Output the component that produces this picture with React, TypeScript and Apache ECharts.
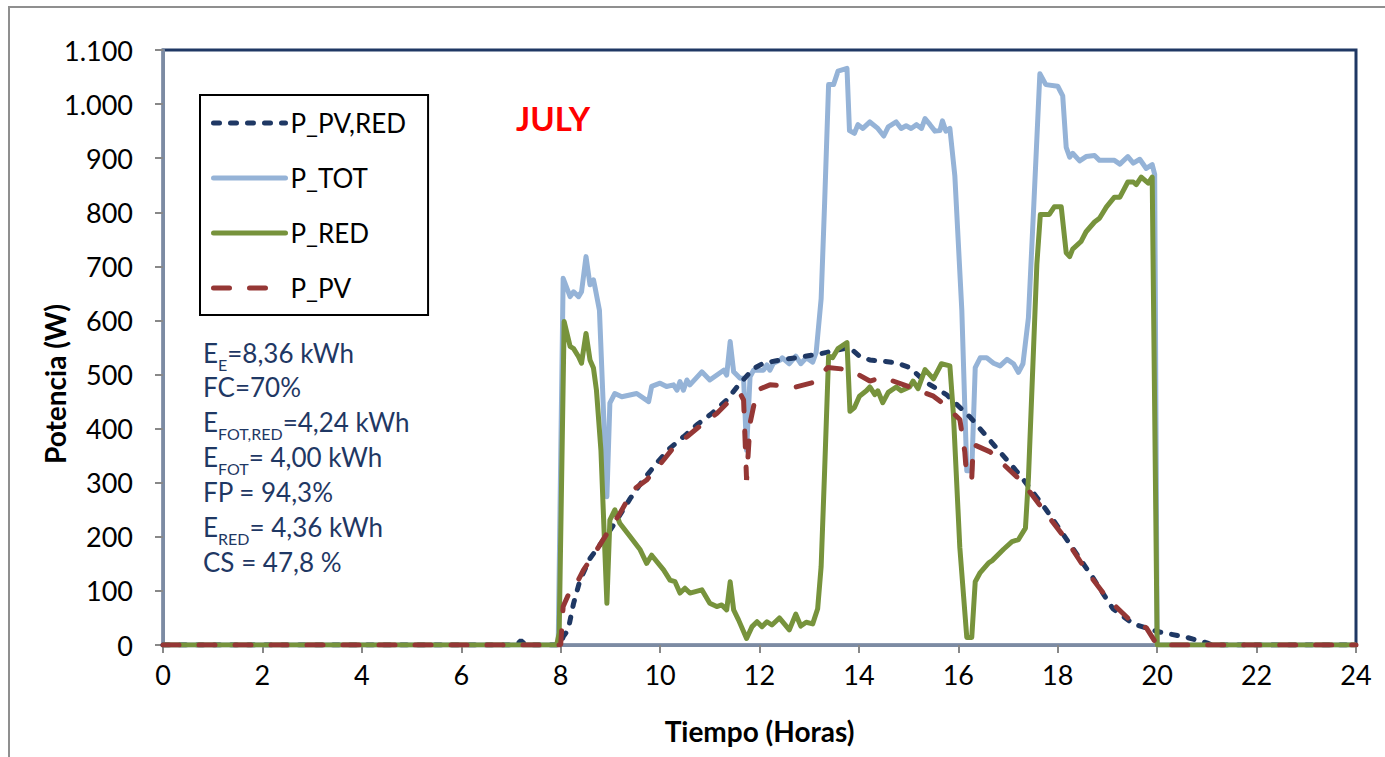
import React, { useEffect, useRef } from "react";
import * as echarts from "echarts";

// ---- Data (hours, watts) ----
const P_PVRED_H = [0, 7.1, 7.2, 7.3, 8.0, 8.05, 8.15, 8.26, 8.39, 8.59, 8.86, 9.13, 9.4, 9.66, 9.93, 10.2, 10.47, 10.74, 11.04, 11.34, 11.61, 11.88, 12.08, 12.42, 12.8, 13.2, 13.55, 13.81, 14.0, 14.22, 14.75, 15.02, 15.36, 15.76, 16.24, 16.77, 17.25, 17.76, 18.24, 18.71, 19.11, 19.52, 20.0, 20.6, 21.0, 21.1, 24];
const P_PVRED_W = [0, 0, 8, 0, 0, 15, 28, 77, 120, 160, 194, 231, 271, 305, 336, 364, 385, 407, 428, 453, 484, 511, 521, 527, 532, 538, 545, 550, 535, 527, 522, 513, 485, 463, 421, 364, 313, 251, 187, 124, 67, 39, 25, 14, 4, 0, 0];

const P_TOT_H = [0, 7.95, 8.05, 8.19, 8.26, 8.36, 8.42, 8.51, 8.59, 8.66, 8.69, 8.78, 8.93, 8.99, 9.09, 9.23, 9.53, 9.77, 9.83, 10.0, 10.13, 10.27, 10.34, 10.4, 10.47, 10.54, 10.6, 10.84, 11.0, 11.28, 11.34, 11.41, 11.48, 11.61, 11.68, 11.74, 11.81, 11.88, 12.08, 12.15, 12.21, 12.28, 12.42, 12.46, 12.6, 12.73, 12.83, 12.94, 13.07, 13.14, 13.24, 13.31, 13.39, 13.49, 13.58, 13.76, 13.81, 13.91, 13.98, 14.08, 14.22, 14.38, 14.5, 14.59, 14.75, 14.85, 14.95, 15.05, 15.16, 15.26, 15.33, 15.43, 15.53, 15.63, 15.68, 15.75, 15.83, 15.93, 16.07, 16.17, 16.27, 16.34, 16.44, 16.57, 16.71, 16.84, 16.98, 17.11, 17.21, 17.3, 17.41, 17.52, 17.64, 17.76, 18.0, 18.1, 18.17, 18.24, 18.3, 18.44, 18.57, 18.74, 18.84, 19.14, 19.25, 19.41, 19.52, 19.65, 19.78, 19.9, 19.95, 20.0, 24];
const P_TOT_W = [0, 0, 678, 644, 653, 644, 653, 718, 666, 675, 662, 619, 274, 447, 465, 459, 465, 450, 478, 484, 478, 481, 471, 487, 471, 490, 481, 505, 490, 508, 499, 561, 505, 493, 493, 360, 496, 508, 508, 518, 508, 521, 527, 531, 520, 534, 520, 531, 523, 541, 640, 817, 1036, 1036, 1061, 1066, 951, 946, 962, 955, 967, 955, 941, 958, 967, 955, 960, 955, 962, 955, 973, 962, 950, 951, 969, 950, 955, 867, 619, 322, 322, 513, 531, 531, 521, 516, 528, 520, 504, 520, 605, 817, 1056, 1036, 1033, 1015, 920, 902, 909, 895, 903, 905, 896, 896, 889, 903, 891, 898, 881, 888, 870, 0, 0];

const P_RED_H = [0, 7.92, 7.97, 8.07, 8.19, 8.26, 8.36, 8.42, 8.51, 8.59, 8.66, 8.72, 8.81, 8.93, 8.99, 9.09, 9.19, 9.4, 9.6, 9.73, 9.83, 10.07, 10.2, 10.3, 10.4, 10.5, 10.6, 10.84, 11.0, 11.14, 11.24, 11.34, 11.41, 11.48, 11.58, 11.74, 11.85, 11.95, 12.05, 12.15, 12.25, 12.4, 12.6, 12.73, 12.83, 12.94, 13.07, 13.17, 13.24, 13.31, 13.39, 13.47, 13.58, 13.76, 13.82, 13.91, 14.01, 14.15, 14.22, 14.32, 14.38, 14.48, 14.59, 14.75, 14.85, 15.02, 15.09, 15.19, 15.33, 15.5, 15.66, 15.83, 15.9, 16.03, 16.17, 16.27, 16.34, 16.44, 16.61, 16.68, 16.91, 17.08, 17.21, 17.35, 17.41, 17.58, 17.65, 17.83, 17.93, 18.07, 18.17, 18.24, 18.3, 18.47, 18.57, 18.74, 18.84, 18.98, 19.14, 19.25, 19.41, 19.52, 19.58, 19.68, 19.82, 19.9, 20.0, 24];
const P_RED_W = [0, 0, 22, 598, 552, 548, 533, 521, 576, 527, 512, 471, 360, 77, 231, 250, 225, 200, 176, 151, 166, 139, 120, 117, 96, 105, 96, 102, 77, 71, 74, 65, 117, 65, 46, 12, 34, 43, 34, 43, 37, 50, 28, 57, 35, 42, 39, 67, 145, 322, 534, 531, 548, 559, 432, 439, 460, 470, 477, 463, 470, 448, 467, 477, 470, 477, 488, 474, 509, 492, 520, 516, 428, 180, 14, 14, 117, 134, 152, 156, 177, 191, 195, 216, 308, 704, 796, 796, 810, 810, 725, 718, 732, 746, 764, 782, 789, 810, 828, 828, 856, 856, 851, 865, 854, 865, 0, 0];

const P_PV_H = [0, 8.0, 8.05, 8.15, 8.32, 8.46, 8.66, 8.93, 9.19, 9.46, 9.73, 10.07, 10.34, 10.54, 10.87, 11.14, 11.41, 11.61, 11.68, 11.74, 11.81, 11.95, 12.21, 12.73, 13.07, 13.37, 13.81, 14.22, 14.48, 15.02, 15.5, 15.7, 16.03, 16.13, 16.17, 16.27, 16.3, 16.64, 17.29, 17.7, 18.17, 18.57, 18.98, 19.45, 19.78, 20.0, 24];
const P_PV_W = [0, 0, 71, 92, 114, 139, 166, 206, 243, 287, 305, 342, 373, 385, 410, 428, 453, 465, 453, 305, 410, 471, 481, 477, 485, 513, 509, 488, 495, 477, 460, 446, 417, 357, 308, 308, 371, 357, 301, 251, 195, 138, 88, 46, 32, 0, 0];

const X_TICKS = [0, 2, 4, 6, 8, 10, 12, 14, 16, 18, 20, 22, 24];
const STATS = [
  "E{s|E}=8,36 kWh",
  "FC=70%",
  "E{s|FOT,RED}=4,24 kWh",
  "E{s|FOT}= 4,00 kWh",
  "FP = 94,3%",
  "E{s|RED}= 4,36 kWh",
  "CS = 47,8 %",
];
const STATS_Y = [353, 387, 422, 457, 492, 527, 562];

const zip = (h: number[], w: number[]) => h.map((x, i) => [x, w[i]]);

export default function App() {
  const ref = useRef<HTMLDivElement>(null);
  useEffect(() => {
    const chart = echarts.init(ref.current!, null, { renderer: "svg" });
    const font = "Lato";
    const option: any = {
      animation: false,
      backgroundColor: "#ffffff",
      grid: {
        left: 163,
        right: 29,
        top: 50,
        bottom: 112,
        show: true,
        borderColor: "#1F3864",
        borderWidth: 3,
        backgroundColor: "transparent",
      },
      legend: {
        orient: "vertical",
        left: 200,
        top: 95,
        padding: [15, 22, 14, 11],
        itemGap: 29,
        itemWidth: 72,
        itemHeight: 12,
        borderColor: "#000",
        borderWidth: 2,
        backgroundColor: "#fff",
        itemStyle: { color: "transparent", borderWidth: 0, opacity: 0 },
        lineStyle: { width: 5, type: "inherit", cap: "round" },
        textStyle: { fontFamily: font, fontSize: 26, color: "#000" },
        data: ["P_PV,RED", "P_TOT", "P_RED", "P_PV"],
      },
      xAxis: {
        type: "value",
        min: 0,
        max: 24,
        interval: 2,
        name: "Tiempo (Horas)",
        nameLocation: "middle",
        nameGap: 72,
        nameTextStyle: { fontFamily: font, fontSize: 28, fontWeight: "bold", color: "#000" },
        axisLine: { show: true, lineStyle: { color: "#7C8BA3", width: 3 } },
        axisTick: { show: true, inside: false, length: 8, lineStyle: { color: "#888", width: 2 } },
        axisLabel: {
          fontFamily: font,
          fontSize: 27,
          color: "#000",
          margin: 16,
          customValues: X_TICKS,
        },
        splitLine: { show: false },
      },
      yAxis: {
        type: "value",
        min: 0,
        max: 1100,
        interval: 100,
        axisLine: { show: true, lineStyle: { color: "#7C8BA3", width: 3 } },
        axisTick: { show: true, length: 8, lineStyle: { color: "#888", width: 2 } },
        axisLabel: {
          fontFamily: font,
          fontSize: 27,
          color: "#000",
          margin: 30,
          formatter: (v: number) =>
            v >= 1000 ? `${Math.floor(v / 1000)}.${String(v % 1000).padStart(3, "0")}` : String(v),
        },
        splitLine: { show: false },
      },
      graphic: [
        {
          type: "rect",
          shape: { x: 9, y: 7, width: 1400, height: 800 },
          style: { fill: "none", stroke: "#8f8f8f", lineWidth: 2 },
          silent: true,
          z: -10,
        },
        {
          type: "text",
          x: 55,
          y: 384,
          rotation: Math.PI / 2,
          style: {
            text: "Potencia (W)",
            fontFamily: font,
            fontSize: 28,
            fontWeight: "bold",
            fill: "#000",
            align: "center",
            verticalAlign: "middle",
          },
        },
        {
          type: "text",
          x: 553,
          y: 118,
          style: {
            text: "JULY",
            fontFamily: font,
            fontSize: 33,
            fontWeight: "bold",
            fill: "#FF0000",
            align: "center",
            verticalAlign: "middle",
          },
          z: 100,
        },
        ...STATS.map((t, i) => ({
          type: "text",
          x: 203,
          y: STATS_Y[i],
          z: 100,
          style: {
            text: t,
            fontFamily: font,
            fontSize: 26,
            fill: "#1F3864",
            align: "left",
            verticalAlign: "middle",
            rich: {
              s: {
                fontFamily: font,
                fontSize: 16,
                fill: "#1F3864",
                color: "#1F3864",
                verticalAlign: "bottom",
                padding: [0, 0, -6, 0],
              },
            },
          },
        })),
      ],
      series: [
        {
          name: "P_PV,RED",
          type: "line",
          data: zip(P_PVRED_H, P_PVRED_W),
          showSymbol: false,
          symbol: "none",
          z: 3,
          lineStyle: { color: "#1F3864", width: 5, type: [6, 11], cap: "round" },
          itemStyle: { color: "#1F3864" },
        },
        {
          name: "P_TOT",
          type: "line",
          data: zip(P_TOT_H, P_TOT_W),
          showSymbol: false,
          symbol: "none",
          z: 2,
          lineStyle: { color: "#95B3D7", width: 5, join: "round" },
          itemStyle: { color: "#95B3D7" },
        },
        {
          name: "P_RED",
          type: "line",
          data: zip(P_RED_H, P_RED_W),
          showSymbol: false,
          symbol: "none",
          z: 4,
          lineStyle: { color: "#77933C", width: 5, join: "round" },
          itemStyle: { color: "#77933C" },
        },
        {
          name: "P_PV",
          type: "line",
          data: zip(P_PV_H, P_PV_W),
          showSymbol: false,
          symbol: "none",
          z: 5,
          lineStyle: { color: "#953735", width: 5, type: [16, 20], cap: "round" },
          itemStyle: { color: "#953735" },
        },
      ],
    };
    chart.setOption(option);
    return () => chart.dispose();
  }, []);
  return (
    <div
      ref={ref}
      style={{ position: "fixed", left: 0, top: 0, width: 1385, height: 757 }}
    />
  );
}
